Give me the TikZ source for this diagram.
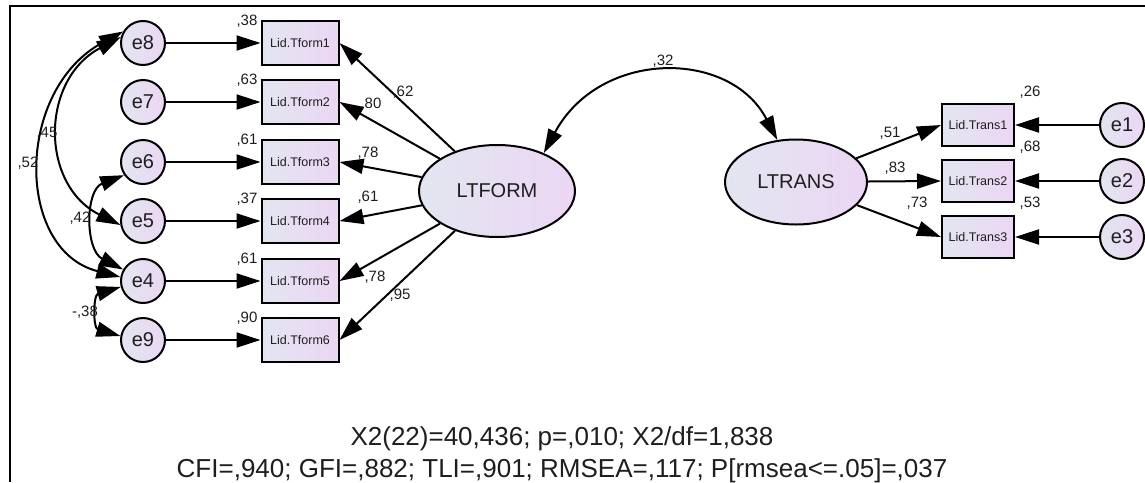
\documentclass[tikz,border=0pt]{standalone}
\usepackage{fontspec}
\setmainfont{Liberation Sans}
\usetikzlibrary{arrows.meta,shapes.geometric}
\definecolor{gl}{RGB}{226,230,240}
\definecolor{gr}{RGB}{236,214,244}
\definecolor{txt}{RGB}{30,30,30}
\begin{document}
\begin{tikzpicture}[x=1pt,y=-1pt,
  every node/.style={text=txt},
  latent/.style={ellipse, draw, line width=2pt, left color=gl, right color=gr, inner sep=0pt, font=\fontsize{20}{20}\selectfont},
  err/.style={circle, draw, line width=2pt, left color=gl, right color=gr, minimum size=44pt, inner sep=0pt, font=\fontsize{20}{20}\selectfont},
  obs/.style={rectangle, draw, line width=2pt, left color=gl, right color=gr, inner sep=0pt, font=\fontsize{12.5}{12.5}\selectfont},
  lbl/.style={font=\fontsize{15}{15}\selectfont, inner sep=0pt},
  stat/.style={font=\fontsize{26}{26}\selectfont, inner sep=0pt, anchor=base},
  arr/.style={-{Triangle[length=24pt,width=15pt]}, line width=2pt},
  darr/.style={{Triangle[length=24pt,width=15pt]}-{Triangle[length=24pt,width=15pt]}, line width=2pt},
]
\useasboundingbox (0,0) rectangle (1145,482);
\draw[line width=2pt] (10,482) -- (10,6) -- (1145,6);

% error terms left
\node[err] (e8) at (143,43) {e8};
\node[err] (e7) at (143,102) {e7};
\node[err] (e6) at (143,162) {e6};
\node[err] (e5) at (143,221) {e5};
\node[err] (e4) at (143,281) {e4};
\node[err] (e9) at (143,340) {e9};

% observed left
\foreach \n/\y in {1/43,2/102,3/162,4/221,5/281,6/340}
  \node[obs, minimum width=77pt, minimum height=44pt] (t\n) at (300,\y) {Lid.Tform\n};

% latents
\node[latent, minimum width=156pt, minimum height=92pt] (ltform) at (497,191) {LTFORM};
\node[latent, minimum width=142pt, minimum height=85pt] (ltrans) at (796,182) {LTRANS};

% observed right
\foreach \n/\y in {1/125,2/181,3/237}
  \node[obs, minimum width=72pt, minimum height=42pt] (r\n) at (978,\y) {Lid.Trans\n};
\node[err] (e1) at (1122,125) {e1};
\node[err] (e2) at (1122,181) {e2};
\node[err] (e3) at (1122,237) {e3};

% error arrows
\draw[arr] (e8) -- (t1);
\draw[arr] (e7) -- (t2);
\draw[arr] (e6) -- (t3);
\draw[arr] (e5) -- (t4);
\draw[arr] (e4) -- (t5);
\draw[arr] (e9) -- (t6);
\draw[arr] (e1) -- (r1);
\draw[arr] (e2) -- (r2);
\draw[arr] (e3) -- (r3);

% loadings
\foreach \n in {1,...,6} \draw[arr] (ltform) -- (t\n.east);
\foreach \n in {1,2,3} \draw[arr] (ltrans) -- (r\n.west);

% covariances
\draw[darr] (e8.165) .. controls (40,80) and (40,185) .. (e5.190);
\draw[darr] (e8.150) .. controls (15,90) and (15,250) .. (e4.170);
\draw[darr] (e6.215) .. controls (85,190) and (85,250) .. (e4.150);
\draw[darr] (e4.195) .. controls (93,295) and (93,328) .. (e9.170);
\draw[darr] (ltform.39) .. controls (600,49) and (730,49) .. (ltrans.114);

% labels
\node[lbl] (s1) at (247,21) {,38};
\node[lbl] (s2) at (247,80) {,63};
\node[lbl] (s3) at (247,140) {,61};
\node[lbl] (s4) at (247,199) {,37};
\node[lbl] (s5) at (247,259) {,61};
\node[lbl] (s6) at (247,318) {,90};
\node[lbl] (l1) at (403,92) {,62};
\node[lbl] (l2) at (371,104) {,80};
\node[lbl] (l3) at (368,153) {,78};
\node[lbl] (l4) at (368,197) {,61};
\node[lbl] (l5) at (375,277) {,78};
\node[lbl] (l6) at (400,295) {,95};
\node[lbl] (c1) at (47,133) {,45};
\node[lbl] (c2) at (28,163) {,52};
\node[lbl] (c3) at (80,218) {,42};
\node[lbl] (c4) at (85,312) {-,38};
\node[lbl] (c5) at (663,61) {,32};
\node[lbl] (m1) at (890,133) {,51};
\node[lbl] (m2) at (895,168) {,83};
\node[lbl] (m3) at (917,203) {,73};
\node[lbl] (q1) at (1030,92) {,26};
\node[lbl] (q2) at (1030,147) {,68};
\node[lbl] (q3) at (1030,203) {,53};

% fit statistics
\node[stat] (stat1) at (562,445) {X2(22)=40,436; p=,010; X2/df=1,838};
\node[stat] (stat2) at (562,477) {CFI=,940; GFI=,882; TLI=,901; RMSEA=,117; P[rmsea<=.05]=,037};
\end{tikzpicture}
\end{document}
